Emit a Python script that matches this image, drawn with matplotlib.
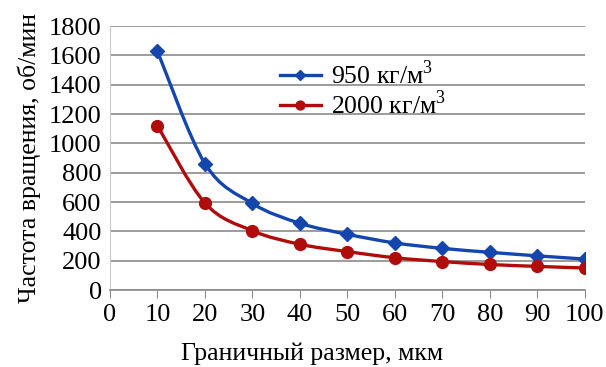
import numpy as np
import matplotlib.pyplot as plt
from matplotlib.path import Path
from matplotlib.patches import PathPatch
from matplotlib.lines import Line2D

# data
size_um = [10, 20, 30, 40, 50, 60, 70, 80, 90, 100]
freq_950 = [1628, 862, 590, 455, 380, 321, 284, 257, 233, 211]
freq_2000 = [1120, 593, 404, 312, 262, 220, 194, 174, 161, 150]
labels = ["950 кг/м$^3$", "2000 кг/м$^3$"]
colors = ["#1446AE", "#B00C0C"]
markers = ["D", "o"]

plt.rcParams['font.family'] = ['Liberation Serif', 'DejaVu Serif']
plt.rcParams['mathtext.fontset'] = 'custom'
plt.rcParams['mathtext.rm'] = 'Liberation Serif'


# Excel-like smoothed line drawn as cubic bezier path through the points
def smooth_path(x, y, t=0.5):
    x = np.asarray(x, float)
    y = np.asarray(y, float)
    verts = [(x[0], y[0])]
    codes = [Path.MOVETO]
    n = len(x)
    for i in range(n - 1):
        x0, y0 = (x[i - 1], y[i - 1]) if i > 0 else (x[i], y[i])
        x3, y3 = (x[i + 2], y[i + 2]) if i + 2 < n else (x[i + 1], y[i + 1])
        c1 = (x[i] + (x[i + 1] - x0) * t / 3, y[i] + (y[i + 1] - y0) * t / 3)
        c2 = (x[i + 1] - (x3 - x[i]) * t / 3, y[i + 1] - (y3 - y[i]) * t / 3)
        verts += [c1, c2, (x[i + 1], y[i + 1])]
        codes += [Path.CURVE4] * 3
    return Path(verts, codes)


fig = plt.figure(figsize=(6.06, 3.67), dpi=100)
ax = fig.add_axes([0.1815, 0.2098, 0.7835, 0.7192])

handles = []
for ys, c, m, lab, ms in zip([freq_950, freq_2000], colors, markers, labels, [7, 8.5]):
    ax.add_patch(PathPatch(smooth_path(size_um, ys), fill=False, edgecolor=c, lw=2.4, zorder=3))
    ax.plot(size_um, ys, ls='none', marker=m, color=c, ms=ms, zorder=4)
    handles.append(Line2D([], [], color=c, lw=2.4, marker=m, ms=ms * 0.75, label=lab))

ax.set_xlim(0, 100)
ax.set_ylim(0, 1800)
ax.set_xticks(range(0, 101, 10))
ax.set_yticks(range(0, 1801, 200))
ax.grid(axis='y', color='#8a8a8a', lw=1.2)
ax.set_axisbelow(True)
for s in ['top', 'right']:
    ax.spines[s].set_visible(False)
ax.spines['left'].set_color('#c8c8c8')
ax.spines['bottom'].set_color('#8a8a8a')
ax.spines['bottom'].set_linewidth(1.2)
ax.tick_params(axis='y', length=0, labelsize=19, pad=6)
ax.tick_params(axis='x', length=6, color='#8a8a8a', labelsize=19, pad=4)

ax.set_xlabel("Граничный размер, мкм", fontsize=18.5)
ax.xaxis.set_label_coords(0.425, -0.2)
ax.set_ylabel("Частота вращения, об/мин", fontsize=18.5, labelpad=6)

ax.legend(handles=handles, loc='upper left', bbox_to_anchor=(0.33, 0.92), frameon=False,
          fontsize=18.5, handlelength=1.6, handletextpad=0.4, labelspacing=0.05, borderpad=0)

fig.savefig("out.png", dpi=100)
